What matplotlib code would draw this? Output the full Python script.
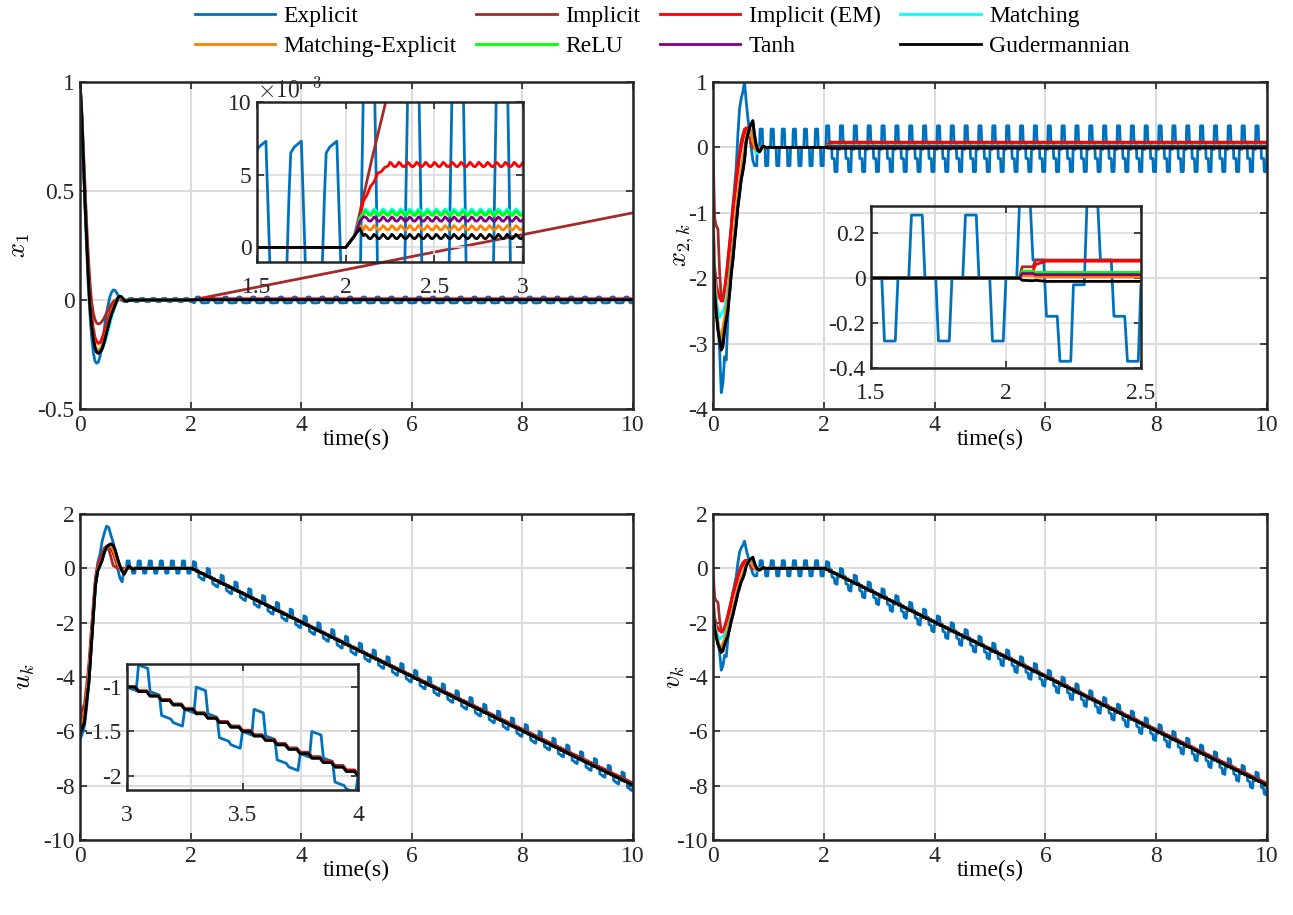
import numpy as np
import matplotlib.pyplot as plt
from matplotlib.ticker import FuncFormatter

plt.rcParams['font.family'] = ['Liberation Serif', 'DejaVu Serif']
plt.rcParams['mathtext.fontset'] = 'cm'
plt.rcParams['axes.unicode_minus'] = False

# series (plot order = legend order)
nomes = ['Explicit', 'Implicit', 'Implicit (EM)', 'Matching',
         'Matching-Explicit', 'ReLU', 'Tanh', 'Gudermannian']
cores = ['#0072BD', '#A52A2A', '#FF0000', '#00FFFF',
         '#FF8000', '#00FF00', '#800080', '#000000']

dt = 0.01      # passo de amostragem da simulacao
t_fim = 10.0

# ---------------- x1 : transitorio ----------------
t_x1 = [0, .03, .06, .09, .12, .15, .18, .21, .24, .27, .30, .33, .36, .39, .42,
        .45, .48, .51, .54, .57, .60, .63, .66, .69, .72, .75, .78, .81, .84, .87, .90, .95]
x1_exp = [1.0, 0.84, 0.63, 0.42, 0.23, 0.06, -0.07, -0.17, -0.24, -0.28, -0.29, -0.285, -0.26,
          -0.22, -0.17, -0.11, -0.06, -0.02, 0.015, 0.035, 0.046, 0.045, 0.035, 0.02, 0.01]
x1_imp = [1.0, 0.87, 0.70, 0.52, 0.35, 0.20, 0.08, -0.01, -0.06, -0.09, -0.105, -0.11, -0.108,
          -0.10, -0.09, -0.075, -0.06, -0.045, -0.03, -0.018, -0.008, -0.002, 0, 0, 0, 0, 0, 0, 0, 0, 0, 0]
x1_em = [1.0, 0.86, 0.67, 0.48, 0.30, 0.14, 0.02, -0.07, -0.13, -0.17, -0.19, -0.20, -0.195,
         -0.18, -0.16, -0.135, -0.11, -0.085, -0.06, -0.04, -0.022, -0.008, 0.003, 0.008, 0.007,
         0.003, 0, 0, 0, 0, 0, 0]
x1_match = [1.0, 0.85, 0.65, 0.45, 0.27, 0.10, -0.03, -0.12, -0.18, -0.215, -0.23, -0.235, -0.235,
            -0.228, -0.215, -0.195, -0.17, -0.14, -0.11, -0.08, -0.055, -0.035, -0.015, 0.0, 0.01,
            0.012, 0.008, 0.002, -0.002, -0.002, 0, 0]
x1_mexp = [1.0, 0.85, 0.65, 0.45, 0.27, 0.10, -0.03, -0.115, -0.17, -0.205, -0.225, -0.23, -0.225,
           -0.215, -0.195, -0.17, -0.14, -0.11, -0.08, -0.055, -0.035, -0.017, 0.0, 0.012, 0.016,
           0.012, 0.004, -0.002, -0.004, -0.002, 0, 0]
x1_relu = [1.0, 0.85, 0.65, 0.45, 0.27, 0.10, -0.03, -0.12, -0.175, -0.215, -0.235, -0.24, -0.235,
           -0.225, -0.205, -0.18, -0.15, -0.12, -0.09, -0.065, -0.045, -0.025, -0.007, 0.01, 0.016,
           0.014, 0.005, -0.003, -0.005, -0.003, 0, 0]
x1_tanh = [1.0, 0.85, 0.65, 0.45, 0.27, 0.10, -0.03, -0.12, -0.178, -0.218, -0.238, -0.243, -0.238,
           -0.228, -0.208, -0.18, -0.15, -0.12, -0.09, -0.065, -0.045, -0.025, -0.006, 0.011, 0.017,
           0.014, 0.005, -0.003, -0.005, -0.003, 0, 0]
x1_gud = [1.0, 0.85, 0.65, 0.45, 0.27, 0.10, -0.03, -0.12, -0.18, -0.22, -0.24, -0.245, -0.24,
          -0.23, -0.21, -0.18, -0.15, -0.12, -0.09, -0.065, -0.045, -0.025, -0.005, 0.012, 0.018,
          0.015, 0.005, -0.003, -0.006, -0.004, -0.001, 0.0]

# x1 Explicit: chattering (x1e-3), um ciclo de 0.2 s antes de 2 s e de 0.25 s depois
x1_exp_ciclo = [7.3, 3.5, -0.5, -4.0, -6.5, -7.0, -7.1, -7.2, -7.3, -7.3,
                -7.3, -4.0, -0.5, 3.5, 6.5, 6.7, 6.9, 7.0, 7.1, 7.2]
x1_exp_2s = [7.3, 3.5, -0.5, -4.0, -6.5, -7.0, -7.2, -7.5, -8.5, -10.0, -11.5, -12.0]
x1_exp_ciclo2 = [-12, -4, 4, 11, 13, 13.5, 14, 14, 13.5, 13, 6, -2, -9, -12.5, -13,
                 -13.2, -13.4, -13.5, -13.5, -13.4, -13.2, -13, -12.8, -12.6, -12.3]

# x1 depois de 2 s (x1e-3)
x1_imp_pos_t = [2.0, 2.05, 2.10, 2.15, 2.20, 10.0]
x1_imp_pos = [0, 0.8, 3.5, 6.2, 8.7, 400]
x1_em_pos_t = [2.0, 2.05, 2.08, 2.10, 2.12, 2.14, 2.16, 2.18, 2.20, 2.22, 2.24]
x1_em_pos = [0, 0.8, 2.0, 3.2, 3.6, 4.2, 4.5, 5.1, 5.2, 5.5, 5.6]
x1_em_nivel = 5.7
x1_pos_t = [2.0, 2.05, 2.08, 2.10]
x1_match_pos, x1_match_nivel = [0, 0.8, 2.0, 2.4], 2.5
x1_mexp_pos, x1_mexp_nivel = [0, 0.8, 1.5, 1.2], 1.35
x1_relu_pos, x1_relu_nivel = [0, 0.8, 1.9, 2.3], 2.35
x1_tanh_pos, x1_tanh_nivel = [0, 0.8, 1.8, 2.1], 1.95
x1_gud_pos, x1_gud_nivel = [0, 0.8, 1.3, 0.8], 0.75
ondulacao = [0.15, 0.05, -0.12, -0.15, -0.03]

# ---------------- x2,k : transitorio ----------------
t_x2 = [0, .03, .06, .09, .12, .15, .18, .21, .24, .27, .30, .33, .36, .39, .42, .45, .48,
        .51, .54, .57, .60, .63, .66, .69, .72, .75, .78, .81, .84, .87, .90, .93, .96, 1.0, 1.05]
x2_exp = [-1.13, -2.0, -2.3, -2.7, -3.1, -3.75, -3.6, -3.2, -3.25, -2.6, -1.8, -1.2, -0.9,
          -0.62, -0.3, 0.2, 0.59, 0.75, 0.85, 1.0, 0.7, 0.45, 0.24, 0.0, -0.2]
x2_imp = [0.0, -1.08, -1.2, -1.25, -1.9, -2.3, -2.35, -2.2, -2.0, -1.7, -1.45, -1.2, -0.9, -0.7,
          -0.45, -0.25, -0.05, 0.1, 0.2, 0.28, 0.3, 0.25, 0.15, 0.05, 0.0, 0, 0, 0, 0, 0, 0, 0, 0, 0, 0]
x2_em = [-0.95, -1.8, -2.1, -2.2, -2.3, -2.35, -2.3, -2.15, -1.95, -1.75, -1.5, -1.25, -1.0,
         -0.78, -0.55, -0.35, -0.15, 0.0, 0.12, 0.22, 0.28, 0.3, 0.22, 0.1, 0.02, -0.02, -0.01,
         0, 0, 0, 0, 0, 0, 0, 0]
x2_match = [-1.1, -2.0, -2.3, -2.5, -2.6, -2.55, -2.5, -2.45, -2.3, -2.15, -1.95, -1.7, -1.5,
            -1.25, -1.0, -0.78, -0.55, -0.35, -0.2, -0.05, 0.08, 0.18, 0.25, 0.2, 0.1, 0.02,
            -0.1, -0.05, 0, 0, 0, 0, 0, 0, 0]
x2_mexp = [-1.2, -2.1, -2.45, -2.7, -2.85, -2.9, -2.75, -2.6, -2.45, -2.25, -2.0, -1.75, -1.5,
           -1.25, -1.0, -0.75, -0.55, -0.35, -0.18, -0.02, 0.12, 0.25, 0.3, 0.25, 0.1, 0.02,
           -0.05, -0.02, 0, 0, 0, 0, 0, 0, 0]
x2_relu = [-1.3, -2.2, -2.5, -2.75, -2.9, -3.0, -2.95, -2.75, -2.6, -2.45, -2.2, -1.9, -1.68,
           -1.4, -1.15, -0.88, -0.68, -0.47, -0.33, -0.17, 0.1, 0.2, 0.3, 0.35, 0.38, 0.15, 0.02,
           -0.05, -0.06, -0.02, 0.02, 0.01, -0.01, 0, 0]
x2_tanh = [-1.3, -2.2, -2.5, -2.78, -2.92, -3.05, -3.0, -2.78, -2.62, -2.47, -2.22, -1.92, -1.7,
           -1.42, -1.17, -0.9, -0.7, -0.48, -0.35, -0.18, 0.1, 0.2, 0.3, 0.36, 0.39, 0.17, 0.03,
           -0.05, -0.06, -0.02, 0.02, 0.01, -0.01, 0, 0]
x2_gud = [-1.33, -2.24, -2.55, -2.8, -2.95, -3.1, -3.05, -2.8, -2.65, -2.5, -2.25, -1.95, -1.73,
          -1.45, -1.2, -0.92, -0.72, -0.5, -0.37, -0.2, 0.09, 0.2, 0.3, 0.36, 0.41, 0.2, 0.04,
          -0.04, -0.07, -0.03, 0.02, 0.01, -0.01, 0.005, 0.0]
# Explicit: niveis mantidos 0.05 s cada
x2_exp_ciclo = [-0.28, 0.0, 0.28, 0.0]
x2_exp_ciclo2 = [0.33, 0.08, -0.17, -0.37, -0.03]
# outros depois de 2 s
x2_pos_t = [2.0, 2.05, 2.06, 2.10, 2.11, 2.15, 10.0]
x2_imp_pos = [0, 0, 0.05, 0.05, 0.08, 0.08, 0.08]
x2_em_pos = [0, 0, 0.03, 0.03, 0.06, 0.075, 0.075]
x2_match_pos = [0, 0, 0.02, 0.02, 0.02, 0.02, 0.02]
x2_mexp_pos = [0, 0, 0.01, 0.01, 0.005, 0.005, 0.005]
x2_relu_pos = [0, 0, 0.03, 0.03, 0.025, 0.025, 0.025]
x2_tanh_pos = [0, 0, 0.02, 0.02, 0.015, 0.015, 0.015]
x2_gud_pos = [0, 0, -0.01, -0.012, -0.01, -0.015, -0.01]

# ---------------- u_k : transitorio ----------------
t_u = [0, .04, .08, .12, .16, .20, .24, .28, .32, .36, .40, .44, .48, .52, .56, .60, .64,
       .68, .72, .76, .80, .84, .88, .92, .96, 1.0]
u_exp = [-6.3, -6.1, -5.8, -5.1, -4.2, -3.0, -1.6, -0.5, 0.2, 0.5, 1.0, 1.3, 1.55, 1.5, 1.2,
         0.95, 0.55, 0.0, -0.35, -0.5]
u_imp = [-5.5, -5.2, -5.0, -4.3, -3.5, -2.4, -1.3, -0.3, 0.1, 0.35, 0.55, 0.75, 0.8, 0.7, 0.4,
         0.1, 0.05, 0, 0, 0, 0, 0, 0, 0, 0, 0]
u_em = [-5.8, -5.6, -5.3, -4.6, -3.8, -2.7, -1.5, -0.5, 0.0, 0.25, 0.45, 0.7, 0.82, 0.85, 0.75,
        0.55, 0.3, 0.1, 0.0, -0.05, -0.02, 0, 0, 0, 0, 0]
u_match = [-5.9, -5.75, -5.5, -4.8, -4.0, -2.9, -1.7, -0.7, -0.1, 0.1, 0.3, 0.55, 0.75, 0.82,
           0.82, 0.72, 0.5, 0.25, 0.05, -0.08, -0.1, 0.0, 0.03, 0, 0, 0]
u_mexp = [-5.9, -5.7, -5.4, -4.7, -3.9, -2.8, -1.6, -0.6, -0.05, 0.15, 0.35, 0.62, 0.8, 0.85,
          0.82, 0.7, 0.45, 0.2, 0.02, -0.1, -0.12, 0.0, 0.04, 0, 0, 0]
u_relu = [-6.0, -5.85, -5.65, -4.9, -4.2, -3.0, -1.8, -0.6, -0.1, 0.1, 0.3, 0.6, 0.78, 0.85,
          0.88, 0.82, 0.62, 0.32, 0.08, -0.1, -0.2, -0.04, 0.07, 0.02, -0.03, 0]
u_tanh = [-6.0, -5.85, -5.65, -4.9, -4.2, -3.0, -1.8, -0.6, -0.1, 0.1, 0.3, 0.6, 0.78, 0.86,
          0.89, 0.84, 0.64, 0.34, 0.09, -0.1, -0.21, -0.05, 0.08, 0.02, -0.04, 0]
u_gud = [-6.1, -5.9, -5.7, -4.9, -4.2, -3.0, -1.8, -0.6, -0.1, 0.1, 0.3, 0.6, 0.78, 0.85, 0.9,
         0.85, 0.65, 0.35, 0.1, -0.1, -0.22, -0.05, 0.08, 0.02, -0.04, 0.0]
u_exp_ciclo = [0.0, 0.27, 0.0, -0.18]
u_exp_ciclo2 = [0.3, 0.05, -0.17, -0.2, 0.0]
# rampa de 2 s a 10 s: valor final de cada serie
u_fim = [-8.0, -7.93, -7.96, -8.0, -8.0, -8.0, -8.0, -8.0]

# ---------------- v_k : mesmo transitorio de x2,k na figura ----------------
v_exp_ciclo2 = [0.3, 0.08, -0.17, -0.35, -0.03]
v_fim = [-8.0, -7.95, -7.95, -8.0, -8.0, -8.0, -8.0, -8.0]


def amostras(t0, vals):
    v = np.asarray(vals, float)
    return t0 + dt * np.arange(len(v)), v


def junta(*partes):
    t = np.concatenate([np.asarray(p[0], float) for p in partes])
    v = np.concatenate([np.asarray(p[1], float) for p in partes])
    ok = t <= t_fim + 1e-9
    return t[ok], v[ok]


def escada(v1, passo=0.05):
    # rampa amostrada (segura 0.05 s) entre 2 s e 10 s
    tk = np.arange(2.0, t_fim + 1e-9, passo)
    vk = np.interp(tk, [2.0, t_fim], [0.0, v1])
    return np.column_stack([tk, tk + 0.035]).ravel(), np.repeat(vk, 2)


def rampa_exp(ciclo2, v1):
    rel = np.concatenate([np.zeros(5), np.tile(np.repeat(ciclo2, 5), 32)])
    t, r = amostras(2.0, rel)
    return t, np.interp(t, [2.0, t_fim], [0.0, v1]) + r


# ---- monta as series ----
x1_outros = [(x1_match, x1_match_pos, x1_match_nivel), (x1_mexp, x1_mexp_pos, x1_mexp_nivel),
             (x1_relu, x1_relu_pos, x1_relu_nivel), (x1_tanh, x1_tanh_pos, x1_tanh_nivel),
             (x1_gud, x1_gud_pos, x1_gud_nivel)]
S_x1 = [junta((t_x1[:25], x1_exp),
              amostras(0.75, np.tile(x1_exp_ciclo, 6) * 1e-3),
              amostras(1.95, np.array(x1_exp_2s) * 1e-3),
              amostras(2.07, np.tile(x1_exp_ciclo2, 32) * 1e-3)),
        junta((t_x1, x1_imp), (x1_imp_pos_t, np.array(x1_imp_pos) * 1e-3)),
        junta((t_x1, x1_em), (x1_em_pos_t, np.array(x1_em_pos) * 1e-3),
              amostras(2.25, (x1_em_nivel + np.tile(ondulacao, 160)) * 1e-3))]
for tr, pos, nivel in x1_outros:
    S_x1.append(junta((t_x1, tr), (x1_pos_t, np.array(pos) * 1e-3),
                      amostras(2.11, (nivel + np.tile(ondulacao, 160)) * 1e-3)))

exp_antes = [amostras(0.75, np.tile(np.repeat(x2_exp_ciclo, 5), 6)),
             amostras(1.95, np.repeat([-0.28, 0.0], 5))]
S_x2 = [junta((t_x2[:25], x2_exp), *exp_antes,
              amostras(2.05, np.tile(np.repeat(x2_exp_ciclo2, 5), 32)))]
for tr, pos in [(x2_imp, x2_imp_pos), (x2_em, x2_em_pos), (x2_match, x2_match_pos),
                (x2_mexp, x2_mexp_pos), (x2_relu, x2_relu_pos), (x2_tanh, x2_tanh_pos),
                (x2_gud, x2_gud_pos)]:
    S_x2.append(junta((t_x2, tr), (x2_pos_t, pos)))

S_u = [junta((t_u[:20], u_exp), amostras(0.80, np.tile(np.repeat(u_exp_ciclo, 5), 6)),
             rampa_exp(u_exp_ciclo2, u_fim[0]))]
for tr, v1 in zip([u_imp, u_em, u_match, u_mexp, u_relu, u_tanh, u_gud], u_fim[1:]):
    S_u.append(junta((t_u, tr), escada(v1)))

S_v = [junta((t_x2[:25], x2_exp), *exp_antes, rampa_exp(v_exp_ciclo2, v_fim[0]))]
for tr, v1 in zip([x2_imp, x2_em, x2_match, x2_mexp, x2_relu, x2_tanh, x2_gud], v_fim[1:]):
    S_v.append(junta((t_x2, tr), escada(v1)))

# ---- figura ----
fig = plt.figure(figsize=(12.93, 9.15), dpi=100)
fmt = FuncFormatter(lambda x, p: '%g' % x)


def estilo(ax, lw_grid=1.5, xpad=4):
    ax.tick_params(direction='in', top=True, right=True, length=5, width=1.2,
                   labelsize=17, pad=4, colors='#262626')
    ax.tick_params(axis='x', pad=xpad)
    for s in ax.spines.values():
        s.set_linewidth(1.8)
        s.set_color('#262626')
    ax.grid(True, color='#dcdcdc', lw=lw_grid)
    ax.set_axisbelow(True)
    ax.xaxis.set_major_formatter(fmt)
    ax.yaxis.set_major_formatter(fmt)


def desenha(ax, series):
    linhas = []
    for (t, v), c, n in zip(series, cores, nomes):
        linhas += ax.plot(t, v, color=c, lw=2, label=n)
    return linhas


paineis = [([0.0619, 0.553, 0.4277, 0.3574], S_x1, (-0.5, 1), [-0.5, 0, 0.5, 1], r'$x_1$', 4),
           ([0.5514, 0.553, 0.4285, 0.3574], S_x2, (-4, 1), [-4, -3, -2, -1, 0, 1],
            r'$x_{2,k}$', -6),
           ([0.0619, 0.082, 0.4277, 0.3563], S_u, (-10, 2), list(range(-10, 3, 2)), r'$u_k$', 4),
           ([0.5514, 0.082, 0.4285, 0.3563], S_v, (-10, 2), list(range(-10, 3, 2)), r'$v_k$', -8)]

eixos = []
for pos, series, ylim, yt, rot, lp in paineis:
    ax = fig.add_axes(pos)
    linhas = desenha(ax, series)
    ax.set_xlim(0, 10)
    ax.set_ylim(*ylim)
    ax.set_xticks(range(0, 11, 2))
    ax.set_yticks(yt)
    estilo(ax)
    ax.set_xlabel('time(s)', fontsize=17, labelpad=-5)
    ax.set_ylabel(rot, fontsize=19, labelpad=lp)
    eixos.append((ax, linhas))

# insets
insets = [([0.1988, 0.7137, 0.2057, 0.1749], S_x1, (1.5, 3), (-1e-3, 10e-3),
           [1.5, 2, 2.5, 3], [0, 5e-3, 10e-3]),
          ([0.6736, 0.5978, 0.2088, 0.1770], S_x2, (1.5, 2.5), (-0.4, 0.32),
           [1.5, 2, 2.5], [-0.4, -0.2, 0, 0.2]),
          ([0.0982, 0.1366, 0.1787, 0.1377], S_u, (3, 4), (-2.16, -0.74),
           [3, 3.5, 4], [-2, -1.5, -1])]
for k, (pos, series, xl, yl, xt, yt) in enumerate(insets):
    ai = fig.add_axes(pos)
    ai.set_facecolor('none')
    desenha(ai, series)
    ai.set_xlim(*xl)
    ai.set_ylim(*yl)
    ai.set_xticks(xt)
    ai.set_yticks(yt)
    estilo(ai, lw_grid=1.2, xpad=11)
    if k == 0:
        ai.yaxis.set_major_formatter(FuncFormatter(lambda x, p: '%g' % round(x * 1e3, 6)))
        ai.text(0.0, 1.0, r'$\times10^{-3}$', transform=ai.transAxes, fontsize=17,
                ha='left', va='bottom', color='#262626')

linhas = eixos[0][1]
ordem = [0, 4, 1, 5, 2, 6, 3, 7]
fig.legend([linhas[i] for i in ordem], [nomes[i] for i in ordem], loc='upper center',
           bbox_to_anchor=(0.512, 1.004), ncol=4, frameon=False, fontsize=17,
           handlelength=3.4, handletextpad=0.35, columnspacing=0.85, labelspacing=0.35,
           borderaxespad=0)

fig.savefig('out.png', dpi=100)
